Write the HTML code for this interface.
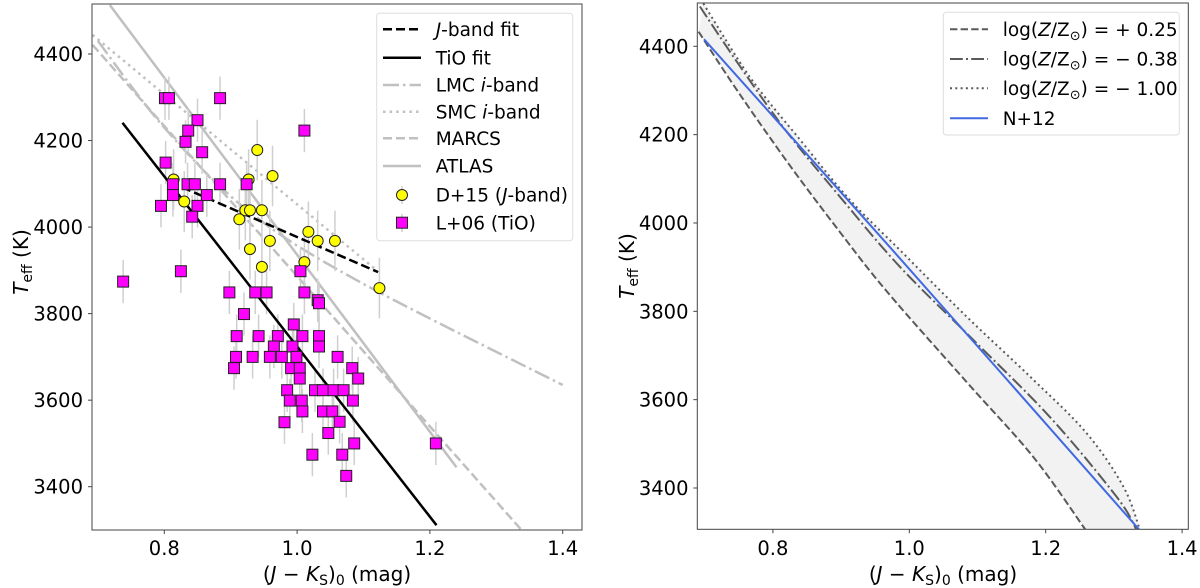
<!DOCTYPE html>
<html><head><meta charset="utf-8"><title>Teff vs J-Ks</title>
<style>
html,body{margin:0;padding:0;background:#fff;}
svg{display:block;font-family:"DejaVu Sans","Liberation Sans",sans-serif;}
</style></head>
<body>
<svg id="fig" width="1200" height="588" viewBox="0 0 1200 588" xmlns="http://www.w3.org/2000/svg">
<defs>
<clipPath id="clipL"><rect x="92" y="4" width="490" height="526"/></clipPath>
<clipPath id="clipR"><rect x="697.3" y="3" width="491" height="526.3"/></clipPath>
</defs>
<g id="left"></g>
<g id="right"></g>
</svg>
<script>
// ---------- Left panel data ----------
const jbandFitX = [0.809, 1.122];
const jbandFitT = [4104, 3896];
const tioFitX = [0.737, 1.210];
const tioFitT = [4241, 3311];
const lmcX = [0.70, 0.80, 0.925, 1.09, 1.40];
const lmcT = [4430, 4230, 4039, 3877, 3635];
const smcX = [0.692, 1.12];
const smcT = [4444, 3900];
const marcsX = [0.692, 1.338];
const marcsT = [4421, 3300];
const atlasX = [0.718, 1.24];
const atlasT = [4513, 3445];
const d15X = [0.814,0.830,0.913,0.922,0.929,0.947,0.927,0.940,0.963,0.929,0.959,0.947,1.017,1.031,1.057,1.011,1.124];
const d15T = [4110,4059,4018,4039,4039,4039,4110,4178,4118,3949,3968,3908,3989,3968,3968,3919,3859];
const l06X = [0.801,0.807,0.884,0.850,0.836,0.832,1.011,0.857,0.802,0.835,0.846,0.884,0.924,0.813,0.813,0.864,0.795,0.850,0.842,0.825,0.738,0.898,0.937,0.954,1.011,1.031,1.005,1.033,0.920,0.995,0.909,0.942,0.971,1.008,1.033,0.965,0.993,1.033,0.908,0.933,0.959,0.977,0.999,1.061,0.905,0.991,1.004,1.083,1.004,1.092,0.985,1.027,1.039,1.055,1.070,0.989,1.007,1.084,1.008,1.039,1.053,1.064,0.981,1.047,1.086,1.023,1.068,1.074,1.209];
const l06T = [4298,4298,4298,4247,4223,4197,4223,4173,4149,4099,4099,4099,4099,4099,4074,4074,4049,4049,4024,3898,3874,3849,3849,3849,3849,3831,3898,3824,3799,3775,3748,3748,3748,3748,3748,3724,3724,3724,3700,3700,3700,3700,3700,3700,3674,3674,3674,3674,3650,3650,3623,3623,3623,3623,3623,3599,3599,3599,3574,3574,3574,3550,3549,3524,3500,3474,3474,3425,3500];
const xTicksL = [0.8, 1.0, 1.2, 1.4];
const yTicks = [3400, 3600, 3800, 4000, 4200, 4400];

// ---------- Right panel data ----------
const z025X = [0.691,0.752,0.825,0.898,0.967,1.084,1.182,1.258];
const z025T = [4433,4290,4130,3980,3845,3640,3470,3306];
const z038X = [0.693,0.752,0.820,0.898,0.986,1.094,1.206,1.304,1.333];
const z038T = [4490,4354,4207,4060,3901,3735,3561,3380,3306];
const z100X = [0.698,0.766,0.840,0.913,0.986,1.084,1.182,1.260,1.314,1.338];
const z100T = [4497,4331,4188,4052,3939,3788,3645,3524,3403,3306];
const n12X = [0.699, 0.986, 1.337];
const n12T = [4416, 3920, 3306];
const xTicksR = [0.8, 1.0, 1.2, 1.4];

const NS = "http://www.w3.org/2000/svg";
function mk(parent, tag, attrs, text){
  const e = document.createElementNS(NS, tag);
  for (const k in attrs) e.setAttribute(k, attrs[k]);
  if (text !== undefined) e.textContent = text;
  parent.appendChild(e);
  return e;
}
const xL = x => 164.3 + (x - 0.8) * 664;
const yL = t => 486.7 - (t - 3400) * 0.4327;
const xR = x => 772.9 + (x - 0.8) * 682;
const yR = t => 488 - (t - 3400) * 0.4417;

function smoothD(xs, ts, fx, fy, startCmd){
  const P = xs.map((x,i)=>[fx(x), fy(ts[i])]);
  let d = (startCmd||"M") + P[0][0].toFixed(1)+","+P[0][1].toFixed(1);
  for (let i=0;i<P.length-1;i++){
    const p0 = P[Math.max(0,i-1)], p1 = P[i], p2 = P[i+1], p3 = P[Math.min(P.length-1,i+2)];
    const c1 = [p1[0]+(p2[0]-p0[0])/6, p1[1]+(p2[1]-p0[1])/6];
    const c2 = [p2[0]-(p3[0]-p1[0])/6, p2[1]-(p3[1]-p1[1])/6];
    d += " C"+c1[0].toFixed(1)+","+c1[1].toFixed(1)+" "+c2[0].toFixed(1)+","+c2[1].toFixed(1)+" "+p2[0].toFixed(1)+","+p2[1].toFixed(1);
  }
  return d;
}

const L = document.getElementById("left");
const R = document.getElementById("right");

const lc = mk(L, "g", {"clip-path":"url(#clipL)"});


function line(parent, xs, ts, fx, fy, stroke, w, dash, name){
  const p = mk(parent, "path", {d: smoothD(xs, ts, fx, fy), fill:"none", stroke:stroke, "stroke-width":w});
  if (dash) p.setAttribute("stroke-dasharray", dash);
  
  
  return p;
}
const grey = "#c0c0c0";
line(lc, lmcX, lmcT, xL, yL, grey, 2.5, "16,4,2.5,4", "lmc-i-band-line");
line(lc, smcX, smcT, xL, yL, grey, 2.5, "2.5,4.1", "smc-i-band-line");
line(lc, marcsX, marcsT, xL, yL, grey, 2.5, "9,4", "marcs-line");
line(lc, atlasX, atlasT, xL, yL, grey, 2.5, null, "atlas-line");
l06X.forEach((x,i)=>{
  const e = mk(lc, "line", {x1:xL(x), x2:xL(x), y1:yL(l06T[i]+50), y2:yL(l06T[i]-50), stroke:"#cfcfcf", "stroke-width":1.5});
  
  
});
d15X.forEach((x,i)=>{
  const e = mk(lc, "line", {x1:xL(x), x2:xL(x), y1:yL(d15T[i]+70), y2:yL(d15T[i]-70), stroke:"#cfcfcf", "stroke-width":1.5});
  
  
});
line(lc, jbandFitX, jbandFitT, xL, yL, "#000", 2.5, "9,4", "j-band-fit-line");
line(lc, tioFitX, tioFitT, xL, yL, "#000", 2.5, null, "tio-fit-line");
d15X.forEach((x,i)=>{
  const c = mk(lc, "circle", {cx:xL(x), cy:yL(d15T[i]), r:5.5, fill:"#ffff00", stroke:"#222", "stroke-width":1});
  
  
});
l06X.forEach((x,i)=>{
  const s = mk(lc, "rect", {x:xL(x)-5.5, y:yL(l06T[i])-5.5, width:11, height:11, fill:"#ff00ff", stroke:"#222", "stroke-width":1});
  
  
});
const fL = mk(L, "rect", {x:92, y:4, width:490, height:526, fill:"none", stroke:"#444", "stroke-width":1});


xTicksL.forEach(v=>{
  const t = mk(L, "line", {x1:xL(v), x2:xL(v), y1:530, y2:534, stroke:"#444"});
  
  
  const l = mk(L, "text", {x:xL(v), y:555, "font-size":19.5, "text-anchor":"middle", fill:"#000"}, v.toFixed(1));
  
  
});
yTicks.forEach(v=>{
  const t = mk(L, "line", {x1:88, x2:92, y1:yL(v), y2:yL(v), stroke:"#444"});
  
  
  const l = mk(L, "text", {x:83, y:yL(v)+7, "font-size":19.5, "text-anchor":"end", fill:"#000"}, String(v));
  
  
});
</script>
<script>
(function(){
const L = document.getElementById("left");
L.insertAdjacentHTML("beforeend",
 '<text x="337" y="581" font-size="20" text-anchor="middle">(<tspan font-style="italic">J</tspan> − <tspan font-style="italic">K</tspan><tspan font-size="14" dy="4">S</tspan><tspan dy="-4">)</tspan><tspan font-size="14" dy="4">0</tspan><tspan dy="-4"> (mag)</tspan></text>'+
 '<text transform="translate(28,262) rotate(-90)" font-size="20" text-anchor="middle"><tspan font-style="italic">T</tspan><tspan font-size="14" dy="4">eff</tspan><tspan dy="-4"> (K)</tspan></text>'+
 '<g>'+
 '<rect x="376.7" y="13.3" width="196" height="227.4" rx="3" fill="#fff" fill-opacity="0.8" stroke="#ddd"/>'+
 '<line x1="383" x2="421" y1="29.3" y2="29.3" stroke="#000" stroke-width="2.5" stroke-dasharray="9,4"/>'+
 '<text x="435.7" y="36" font-size="18.5"><tspan font-style="italic">J</tspan>-band fit</text>'+
 '<line x1="383" x2="421" y1="57.7" y2="57.7" stroke="#000" stroke-width="2.5"/>'+
 '<text x="435.7" y="64.4" font-size="18.5">TiO fit</text>'+
 '<line x1="383" x2="421" y1="85" y2="85" stroke="#c0c0c0" stroke-width="2.5" stroke-dasharray="16,4,2.5,4"/>'+
 '<text x="435.7" y="91.7" font-size="18.5">LMC <tspan font-style="italic">i</tspan>-band</text>'+
 '<line x1="383" x2="421" y1="111.7" y2="111.7" stroke="#c0c0c0" stroke-width="2.5" stroke-dasharray="2.5,4.1"/>'+
 '<text x="435.7" y="118.4" font-size="18.5">SMC <tspan font-style="italic">i</tspan>-band</text>'+
 '<line x1="383" x2="421" y1="138.3" y2="138.3" stroke="#c0c0c0" stroke-width="2.5" stroke-dasharray="9,4"/>'+
 '<text x="435.7" y="145" font-size="18.5">MARCS</text>'+
 '<line x1="383" x2="421" y1="166" y2="166" stroke="#c0c0c0" stroke-width="2.5"/>'+
 '<text x="435.7" y="172.7" font-size="18.5">ATLAS</text>'+
 '<line x1="402" x2="402" y1="186" y2="204" stroke="#cfcfcf" stroke-width="1.5"/>'+
 '<circle cx="402" cy="195" r="5.5" fill="#ffff00" stroke="#222"/>'+
 '<text x="435.7" y="201.7" font-size="18.5">D+15 (<tspan font-style="italic">J</tspan>-band)</text>'+
 '<line x1="402" x2="402" y1="214" y2="232" stroke="#cfcfcf" stroke-width="1.5"/>'+
 '<rect x="396.5" y="217.2" width="11" height="11" fill="#ff00ff" stroke="#222"/>'+
 '<text x="435.7" y="229.4" font-size="18.5">L+06 (TiO)</text>'+
 '</g>');
})();
</script>
<script>
(function(){
const R = document.getElementById("right");
const rc = mk(R, "g", {"clip-path":"url(#clipR)"});


const revX = z100X.slice().reverse(), revT = z100T.slice().reverse();
const band = mk(rc, "path", {d: smoothD(z025X, z025T, xR, yR) + " " + smoothD(revX, revT, xR, yR, "L") + " Z", fill:"#f2f2f2", stroke:"none"});


line(rc, z025X, z025T, xR, yR, "#5a5a5a", 2, "7.4,3.2", "z-plus-025-line");
line(rc, z038X, z038T, xR, yR, "#5a5a5a", 2, "12.8,3.2,2,3.2", "z-minus-038-line");
line(rc, z100X, z100T, xR, yR, "#5a5a5a", 2, "2,3.3", "z-minus-100-line");
line(rc, n12X, n12T, xR, yR, "#4169e1", 2, null, "n12-line");
const fR = mk(R, "rect", {x:697.3, y:3, width:491, height:526.3, fill:"none", stroke:"#444", "stroke-width":1});


xTicksR.forEach(v=>{
  const t = mk(R, "line", {x1:xR(v), x2:xR(v), y1:529.3, y2:533.3, stroke:"#444"});
  
  
  const l = mk(R, "text", {x:xR(v), y:555, "font-size":19.5, "text-anchor":"middle", fill:"#000"}, v.toFixed(1));
  
  
});
yTicks.forEach(v=>{
  const t = mk(R, "line", {x1:693.3, x2:697.3, y1:yR(v), y2:yR(v), stroke:"#444"});
  
  
  const l = mk(R, "text", {x:688.5, y:yR(v)+7, "font-size":19.5, "text-anchor":"end", fill:"#000"}, String(v));
  
  
});
R.insertAdjacentHTML("beforeend",
 '<text x="943" y="581" font-size="20" text-anchor="middle">(<tspan font-style="italic">J</tspan> − <tspan font-style="italic">K</tspan><tspan font-size="14" dy="4">S</tspan><tspan dy="-4">)</tspan><tspan font-size="14" dy="4">0</tspan><tspan dy="-4"> (mag)</tspan></text>'+
 '<text transform="translate(634,266) rotate(-90)" font-size="20" text-anchor="middle"><tspan font-style="italic">T</tspan><tspan font-size="14" dy="4">eff</tspan><tspan dy="-4"> (K)</tspan></text>'+
 '<g>'+
 '<rect x="943.3" y="12.3" width="236" height="122.7" rx="3" fill="#fff" fill-opacity="0.8" stroke="#ddd"/>'+
 '<line x1="950" x2="988" y1="29.3" y2="29.3" stroke="#5a5a5a" stroke-width="2" stroke-dasharray="7.4,3.2"/>'+
 '<text x="1002.7" y="36" font-size="18.5">log(<tspan font-style="italic">Z</tspan>/Z<tspan font-size="13" dy="4">⊙</tspan><tspan dy="-4">) = + 0.25</tspan></text>'+
 '<line x1="950" x2="988" y1="59" y2="59" stroke="#5a5a5a" stroke-width="2" stroke-dasharray="12.8,3.2,2,3.2"/>'+
 '<text x="1002.7" y="65.7" font-size="18.5">log(<tspan font-style="italic">Z</tspan>/Z<tspan font-size="13" dy="4">⊙</tspan><tspan dy="-4">) = − 0.38</tspan></text>'+
 '<line x1="950" x2="988" y1="88.3" y2="88.3" stroke="#5a5a5a" stroke-width="2" stroke-dasharray="2,3.3"/>'+
 '<text x="1002.7" y="95" font-size="18.5">log(<tspan font-style="italic">Z</tspan>/Z<tspan font-size="13" dy="4">⊙</tspan><tspan dy="-4">) = − 1.00</tspan></text>'+
 '<line x1="950" x2="988" y1="118.3" y2="118.3" stroke="#4169e1" stroke-width="2"/>'+
 '<text x="1002.7" y="125" font-size="18.5">N+12</text>'+
 '</g>');
})();
</script>
</body></html>
